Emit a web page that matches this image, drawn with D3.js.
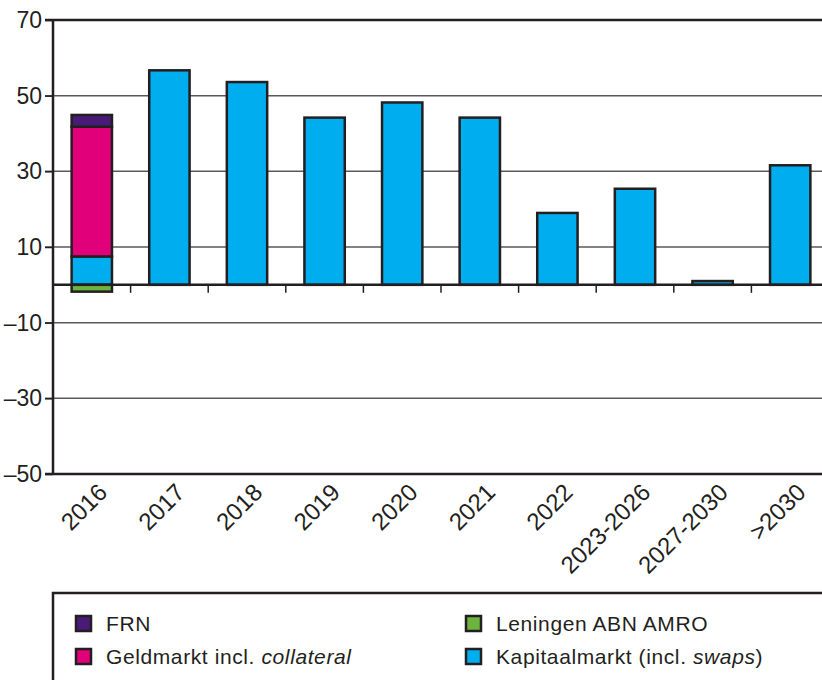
<!DOCTYPE html>
<html>
<head>
<meta charset="utf-8">
<script src="https://cdn.jsdelivr.net/npm/d3@7/dist/d3.min.js"></script>
<style>
  body { margin: 0; background: #fff; }
  text { fill: #231f20; }
</style>
</head>
<body>
<div id="chart"></div>
<script>
// categories and series (billions)
var categories = ['2016', '2017', '2018', '2019', '2020', '2021', '2022', '2023-2026', '2027-2030', '>2030'];
var kapitaalmarkt = [7.5, 56.7, 53.6, 44.2, 48.2, 44.2, 19.0, 25.4, 1.0, 31.6];
var geldmarkt = [34.3, 0, 0, 0, 0, 0, 0, 0, 0, 0];
var frn = [3.1, 0, 0, 0, 0, 0, 0, 0, 0, 0];
var leningen = [-1.8, 0, 0, 0, 0, 0, 0, 0, 0, 0];
var yTicks = [-50, -30, -10, 10, 30, 50, 70];

var seriesKeys = ['kapitaalmarkt', 'geldmarkt', 'frn', 'leningen'];
var colors = {
  kapitaalmarkt: '#00aeef',
  geldmarkt: '#e2007a',
  frn: '#4a1a78',
  leningen: '#6cb33f'
};
var legendItems = [
  {key: 'frn', label: 'FRN'},
  {key: 'leningen', label: 'Leningen ABN AMRO'},
  {key: 'geldmarkt', label: 'Geldmarkt incl. ', italic: 'collateral'},
  {key: 'kapitaalmarkt', label: 'Kapitaalmarkt (incl. ', italic: 'swaps', tail: ')'}
];

var width = 822, height = 680;
var ink = '#231f20';

var svg = d3.select('#chart').append('svg')
  .attr('width', width)
  .attr('height', height);

var x = d3.scaleBand().domain(categories).range([53, 829]).padding(0);
var y = d3.scaleLinear().domain([-50, 70]).range([474, 20]);
var barW = x.bandwidth() * 0.52;

var table = categories.map(function(c, i) {
  return {cat: c, kapitaalmarkt: kapitaalmarkt[i], geldmarkt: geldmarkt[i], frn: frn[i], leningen: leningen[i]};
});
var stacked = d3.stack().keys(seriesKeys).offset(d3.stackOffsetDiverging)(table);

// gridlines
svg.append('g')
  .selectAll('line')
  .data(yTicks.filter(function(t) { return t !== 70 && t !== -50; }))
  .enter().append('line')
  .attr('x1', 45).attr('x2', width)
  .attr('y1', function(d) { return y(d); })
  .attr('y2', function(d) { return y(d); })
  .attr('stroke', '#5a5a5a')
  .attr('stroke-width', 1.5);

// top and bottom frame lines
[70, -50].forEach(function(v) {
  svg.append('line')
    .attr('x1', 45).attr('x2', width)
    .attr('y1', y(v)).attr('y2', y(v))
    .attr('stroke', ink).attr('stroke-width', 2.5);
});

// bars
svg.append('g')
  .selectAll('g')
  .data(stacked)
  .enter().append('g')
  .attr('fill', function(d) { return colors[d.key]; })
  .selectAll('rect')
  .data(function(d) { return d.filter(function(p) { return p[1] - p[0] !== 0; }); })
  .enter().append('rect')
  .attr('x', function(d) { return x(d.data.cat) + (x.bandwidth() - barW) / 2; })
  .attr('width', barW)
  .attr('y', function(d) { return y(d[1]); })
  .attr('height', function(d) { return y(d[0]) - y(d[1]); })
  .attr('stroke', ink)
  .attr('stroke-width', 2.5);

// zero line with category ticks
svg.append('line')
  .attr('x1', 53).attr('x2', width)
  .attr('y1', y(0)).attr('y2', y(0))
  .attr('stroke', ink).attr('stroke-width', 2.5);
svg.append('g')
  .selectAll('line')
  .data(categories.slice(1))
  .enter().append('line')
  .attr('x1', function(d) { return x(d); })
  .attr('x2', function(d) { return x(d); })
  .attr('y1', y(0)).attr('y2', y(0) + 8)
  .attr('stroke', ink).attr('stroke-width', 1.5);

// y axis
var yAxis = d3.axisLeft(y)
  .tickValues(yTicks)
  .tickSize(8)
  .tickPadding(3)
  .tickFormat(function(d) { return d < 0 ? '\u2013' + Math.abs(d) : d; });
var gy = svg.append('g')
  .attr('transform', 'translate(53,0)')
  .call(yAxis);
gy.select('.domain').remove();
gy.append('line')
  .attr('x1', 0).attr('x2', 0)
  .attr('y1', y(70) - 1).attr('y2', y(-50) + 1)
  .attr('stroke', ink).attr('stroke-width', 2.5);
gy.selectAll('.tick line').attr('stroke', ink).attr('stroke-width', 1.5);
gy.selectAll('.tick text')
  .attr('fill', ink)
  .style('font-family', '"Liberation Sans Narrow", "Arial Narrow", sans-serif')
  .style('font-size', '23px');

// x labels, rotated
svg.append('g')
  .selectAll('text')
  .data(categories)
  .enter().append('text')
  .attr('transform', function(d) {
    return 'translate(' + (x(d) + x.bandwidth() / 2 + 5) + ',' + (y(-50) + 8) + ') rotate(-45)';
  })
  .attr('text-anchor', 'end')
  .attr('dy', '0.7em')
  .style('font-family', '"Liberation Sans Narrow", "Arial Narrow", sans-serif')
  .style('font-size', '24px')
  .text(function(d) { return d; });

// legend
var legend = svg.append('g');
legend.append('rect')
  .attr('x', 53).attr('y', 593)
  .attr('width', 800).attr('height', 120)
  .attr('fill', 'none')
  .attr('stroke', ink).attr('stroke-width', 2.5);

var leg = legend.selectAll('g.item')
  .data(legendItems)
  .enter().append('g')
  .attr('class', 'item')
  .attr('transform', function(d, i) {
    return 'translate(' + (i % 2 === 0 ? 76 : 466) + ',' + (616 + Math.floor(i / 2) * 33) + ')';
  });
leg.append('rect')
  .attr('width', 15).attr('height', 15)
  .attr('fill', function(d) { return colors[d.key]; })
  .attr('stroke', ink).attr('stroke-width', 2.5);
var lt = leg.append('text')
  .attr('x', 30).attr('y', 15)
  .style('font-family', '"Liberation Sans", Arial, sans-serif')
  .style('font-size', '21px')
  .style('letter-spacing', '0.6px');
lt.append('tspan').text(function(d) { return d.label; });
lt.append('tspan').style('font-style', 'italic').text(function(d) { return d.italic || ''; });
lt.append('tspan').text(function(d) { return d.tail || ''; });
</script>
</body>
</html>
